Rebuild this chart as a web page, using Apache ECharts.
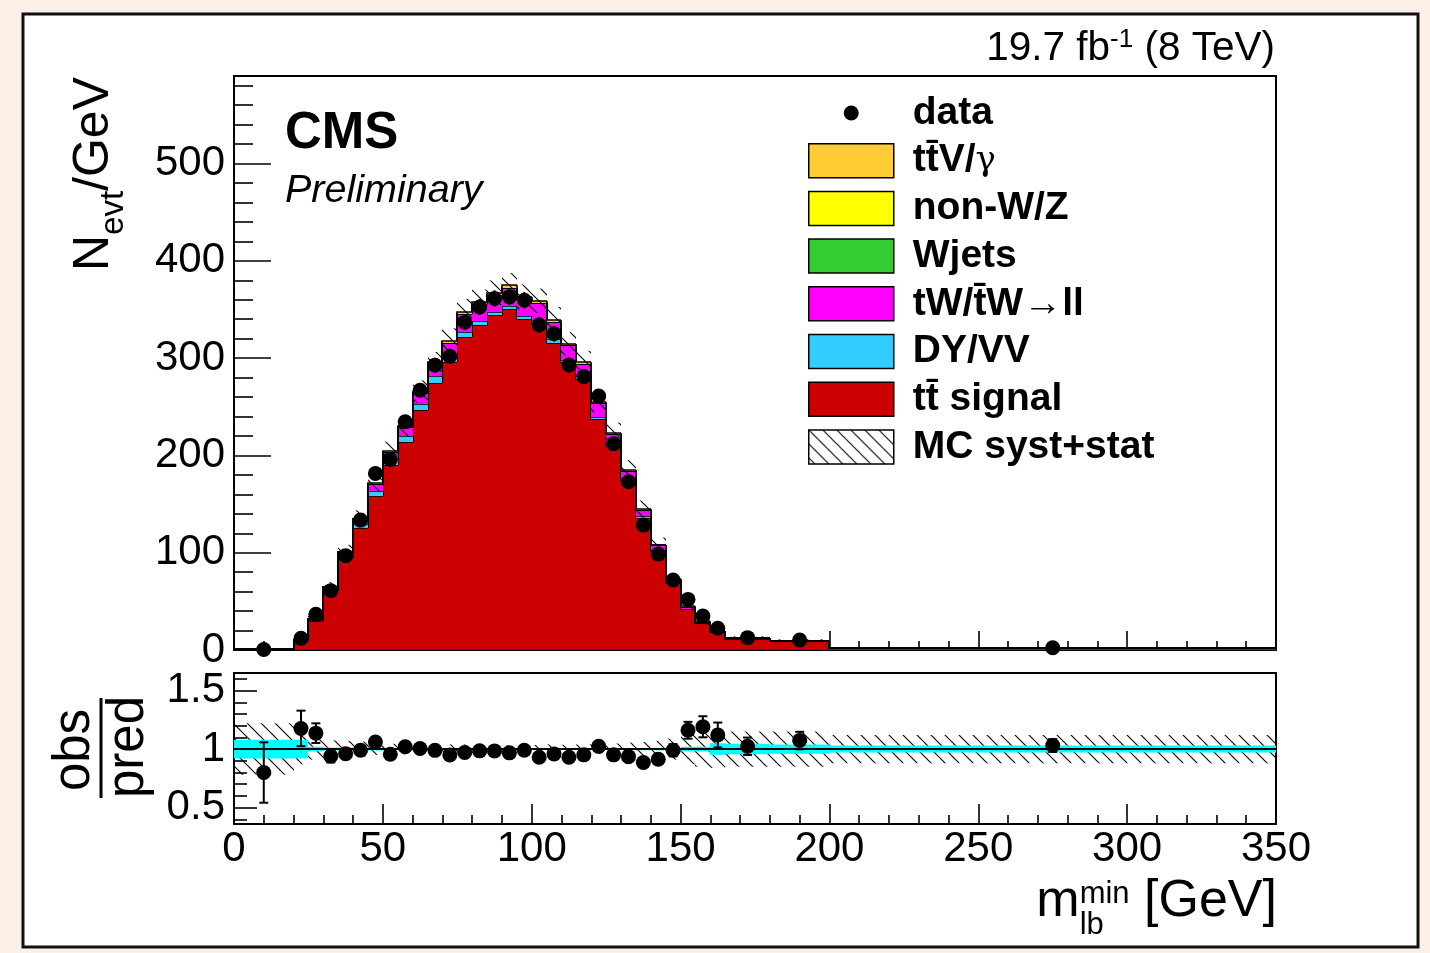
<!DOCTYPE html>
<html><head><meta charset="utf-8">
<script src="https://cdn.jsdelivr.net/npm/echarts@6/dist/echarts.min.js"></script>
<style>html,body{margin:0;padding:0;background:#fcefe6;}#c{width:1430px;height:953px;}</style>
</head><body><div id="c"></div>
<script>
// ---------------- data (per GeV) ----------------
const binEdges = [0,20,25,30,35,40,45,50,55,60,65,70,75,80,85,90,95,100,105,110,115,120,125,130,135,140,145,150,155,160,165,180,200,350];
const dataObs  = [0.48,12.0,36.7,61,97,133.5,181.5,195.9,234.5,267,292.8,302,337,352.6,361.3,363,359.5,334,325,293,281,261,212,173,128.4,98.6,71.9,52,35,22.3,12.7,10.3,2.37];
const ttSignal = [0.35,9.3,30.0,60.5,94.5,125.5,158.5,190,214,247,274,296,322,334,344,350,340,336,316,296,279,237,210,175,136,102,68.5,41.8,27.5,18.6,11.7,9.1,2.15];
const dyVV     = [0.15,0.5,1.2,2.2,3.2,4.3,5.0,6,5.5,5.5,8,6,5,4.5,3.5,4,3,3,3.5,2.5,2.5,2.5,2,1.5,1.5,1.2,0.8,0.6,0.4,0.3,0.2,0.15,0.05];
const tWll     = [0.08,0.35,1.0,2.0,3.0,4.5,7.0,8,9.5,12,12.5,14,18,17.5,17.5,18.5,18,18,17.5,14.5,12.5,14,10,7.5,6.8,4.3,3,2.2,1.35,0.9,0.45,0.3,0.08];
const wJets    = [0,0,0,0,0,0,0,0,0,0,0,0,0,0,0,0,0,0,0,0,0,0,0,0,0,0,0,0,0,0,0,0,0];
const nonWZ    = [0.01,0,0,0,0,0,0,0,0,0,0,0,0,0,0,0,0,0,0,0,0,0,0,0,0,0,0,0,0,0,0,0,0];
const ttVgamma = [0.01,0.05,0.1,0.2,0.3,0.5,0.7,1,1,1.2,1.5,2,2,2,2,2.5,2,2,2,2,1.6,1.5,1,1,0.7,0.5,0.3,0.2,0.15,0.1,0.05,0.05,0.02];
// relative uncertainties
const systStatRel = [0.22,0.13,0.09,0.075,0.07,0.065,0.05,0.045,0.045,0.043,0.035,0.04,0.04,0.035,0.035,0.033,0.035,0.035,0.04,0.037,0.04,0.042,0.048,0.055,0.06,0.07,0.09,0.13,0.15,0.16,0.15,0.15,0.12];
const mcStatRel   = [0.08,0.08,0.02,0.012,0.012,0.012,0.012,0.008,0.008,0.007,0.007,0.007,0.006,0.006,0.006,0.006,0.006,0.006,0.006,0.007,0.007,0.007,0.008,0.008,0.009,0.01,0.012,0.02,0.02,0.05,0.045,0.04,0.03];
// tick values
const yMainTicks  = [0,100,200,300,400,500];
const yMainMinor  = [20,40,60,80,120,140,160,180,220,240,260,280,320,340,360,380,420,440,460,480,520,540,560,580];
const yRatioTicks = [0.5,1,1.5];
const yRatioMinor = [0.4,0.6,0.7,0.8,0.9,1.1,1.2,1.3,1.4,1.6];

// ---------------- helpers ----------------
const FONT = '"Liberation Sans", Arial, Helvetica, sans-serif';
const mctx = document.createElement('canvas').getContext('2d');
function tw(t, size, w, s){ mctx.font = (s||'normal')+' '+(w||'normal')+' '+size+'px '+FONT; return mctx.measureText(t).width; }
function textRun(pieces, x, y, rot, anchor){
  let cx = 0, lastX = 0, lastW = 0; const ch = [];
  pieces.forEach(p => {
    const w = tw(p.t, p.size, p.w, p.s); let px;
    if (p.stack){ px = lastX; cx = lastX + Math.max(lastW, w); }
    else { px = cx; cx += w; lastX = px; lastW = w; }
    ch.push({type:'text', x:px, y:-(p.dy||0) - 0.3465*p.size, z:20,
      style:{text:p.t, fontSize:p.size, fontFamily:FONT, fontWeight:p.w||'normal', fontStyle:p.s||'normal', fill:'#000', align:'left', verticalAlign:'middle'}});
  });
  const off = anchor==='end' ? -cx : anchor==='middle' ? -cx/2 : 0;
  ch.forEach(c => c.x += off);
  return {type:'group', x:x, y:y, rotation:rot||0, z:20, silent:true, children:ch};
}
function makeHatch(s, lw){
  const c = document.createElement('canvas'); c.width = s; c.height = s;
  const g = c.getContext('2d'); g.strokeStyle = '#000'; g.lineWidth = lw;
  g.beginPath(); g.moveTo(-1,-1); g.lineTo(s+1,s+1);
  g.moveTo(s-2,-2); g.lineTo(s+2,2); g.moveTo(-2,s-2); g.lineTo(2,s+2); g.stroke();
  return {image:c, repeat:'repeat'};
}
const hatch = makeHatch(14, 1.1);

const nb = binEdges.length - 1;
const centers = [], widths = [];
for (let i=0;i<nb;i++){ centers.push((binEdges[i]+binEdges[i+1])/2); widths.push(binEdges[i+1]-binEdges[i]); }

const comps = [
  {name:'tt\u0304 signal', vals:ttSignal, color:'#cc0000'},
  {name:'DY/VV', vals:dyVV, color:'#33ccff'},
  {name:'tW/t\u0304W\u2192ll', vals:tWll, color:'#ff00ff'},
  {name:'Wjets', vals:wJets, color:'#33cc33'},
  {name:'non-W/Z', vals:nonWZ, color:'#ffff00'},
  {name:'tt\u0304V/\u03b3', vals:ttVgamma, color:'#ffcc33'}
];
let base = new Array(nb).fill(0);
comps.forEach(c => {
  const tops = base.map((b,i) => b + c.vals[i]);
  c.data = tops.map((t,i) => [binEdges[i], binEdges[i+1], base[i], t, i>0 ? tops[i-1] : 0]);
  base = tops;
});
const total = base;

const R = Math.round;
function stackRender(color){
  return function(params, api){
    const lo=api.value(0), hi=api.value(1), b=api.value(2), t=api.value(3), pt=api.value(4);
    const a=api.coord([lo,b]), c=api.coord([hi,t]), d=api.coord([lo,pt]);
    const x0=R(a[0]), x1=R(c[0]), yb=R(a[1]), yt=R(c[1]), yp=R(d[1]);
    return {type:'group', children:[
      {type:'rect', shape:{x:x0, y:yt, width:x1-x0, height:yb-yt}, style:{fill:color}},
      {type:'polyline', shape:{points:[[x0,yp],[x0,yt],[x1,yt]]}, style:{stroke:'#000', lineWidth:1.6, fill:null}}
    ]};
  };
}
function bandRender(fill){
  return function(params, api){
    const a=api.coord([api.value(0), api.value(2)]), c=api.coord([api.value(1), api.value(3)]);
    return {type:'rect', shape:{x:R(a[0]), y:c[1], width:R(c[0])-R(a[0]), height:a[1]-c[1]}, style:{fill:fill}};
  };
}
function errRender(cap){
  return function(params, api){
    const x=api.value(0);
    const p1=api.coord([x, api.value(1)]), p2=api.coord([x, api.value(2)]);
    const st={stroke:'#000', lineWidth:2};
    const ch=[{type:'line', shape:{x1:p1[0],y1:p1[1],x2:p2[0],y2:p2[1]}, style:st}];
    if (cap){
      ch.push({type:'line', shape:{x1:p1[0]-cap,y1:p1[1],x2:p1[0]+cap,y2:p1[1]}, style:st});
      ch.push({type:'line', shape:{x1:p2[0]-cap,y1:p2[1],x2:p2[0]+cap,y2:p2[1]}, style:st});
    }
    return {type:'group', children:ch};
  };
}

const mainHatch = total.map((t,i) => [binEdges[i], binEdges[i+1], t*(1-systStatRel[i]), t*(1+systStatRel[i])]);
const dataPts = dataObs.map((v,i) => [centers[i], v]);
const dataErr = dataObs.map((v,i) => { const e = Math.sqrt(v*widths[i])/widths[i]; return [centers[i], v-e, v+e]; });
const ratio = dataObs.map((v,i) => v/total[i]);
const ratioPts = ratio.map((r,i) => [centers[i], r]);
const ratioErr = ratio.map((r,i) => { const e = r/Math.sqrt(dataObs[i]*widths[i]); return [centers[i], r-e, r+e]; });
const ratioHatch = systStatRel.map((u,i) => [binEdges[i], binEdges[i+1], 1-u, 1+u]);
const ratioStat = mcStatRel.map((u,i) => [binEdges[i], binEdges[i+1], 1-u, 1+u]);

const axLine = {show:true, lineStyle:{color:'#000', width:2}};
const tickStyle = {color:'#000', width:1.6};
const lblStyle = {fontSize:42, fontFamily:FONT, color:'#000'};
const dotStyle = {color:'#000', opacity:1, borderWidth:0};

const series = [];
comps.forEach((c,k) => series.push({
  type:'custom', name:c.name, xAxisIndex:0, yAxisIndex:0, z:2+k*0.01,
  itemStyle:{color:c.color, opacity:1}, encode:{x:[0,1], y:[2,3]},
  renderItem:stackRender(c.color), data:c.data, silent:true
}));
series.push({type:'custom', name:'MC syst+stat', xAxisIndex:0, yAxisIndex:0, z:3,
  itemStyle:{color:hatch, opacity:1}, encode:{x:[0,1], y:[2,3]}, renderItem:bandRender(hatch), data:mainHatch, silent:true});
series.push({type:'custom', name:'data err', xAxisIndex:0, yAxisIndex:0, z:4,
  encode:{x:0, y:[1,2]}, renderItem:errRender(0), data:dataErr, silent:true});
series.push({type:'scatter', name:'data', xAxisIndex:0, yAxisIndex:0, z:5,
  symbol:'circle', symbolSize:15, itemStyle:dotStyle, emphasis:{disabled:true}, data:dataPts, silent:true});
// ratio panel
series.push({type:'custom', name:'ratio syst', xAxisIndex:1, yAxisIndex:2, z:2,
  encode:{x:[0,1], y:[2,3]}, renderItem:bandRender(hatch), data:ratioHatch, silent:true});
series.push({type:'custom', name:'ratio stat', xAxisIndex:1, yAxisIndex:2, z:3,
  encode:{x:[0,1], y:[2,3]}, renderItem:bandRender('#00ffff'), data:ratioStat, silent:true});
series.push({type:'line', name:'unity', xAxisIndex:1, yAxisIndex:2, z:4, showSymbol:false, symbol:'none',
  lineStyle:{color:'#000', width:2}, data:[[0,1],[350,1]], silent:true});
series.push({type:'custom', name:'ratio err', xAxisIndex:1, yAxisIndex:2, z:5,
  encode:{x:0, y:[1,2]}, renderItem:errRender(4.5), data:ratioErr, silent:true});
series.push({type:'scatter', name:'ratio', xAxisIndex:1, yAxisIndex:2, z:6,
  symbol:'circle', symbolSize:15, itemStyle:dotStyle, emphasis:{disabled:true}, data:ratioPts, silent:true});

const DOT = 'path://M0 0M85 34M35 17A7.5 7.5 0 1 1 50 17A7.5 7.5 0 1 1 35 17Z';
const legendData = [{name:'data', icon:DOT, itemStyle:{color:'#000', opacity:1, borderWidth:0}}];
comps.slice().reverse().forEach(c => legendData.push({name:c.name, icon:'rect', itemStyle:{borderColor:'#000', borderWidth:1.5}}));
legendData.push({name:'MC syst+stat', icon:'rect', itemStyle:{borderColor:'#000', borderWidth:1.5}});

const option = {
  animation:false,
  backgroundColor:'transparent',
  grid:[
    {left:234, top:76, width:1042, height:574, show:true, backgroundColor:'#fff', borderColor:'#000', borderWidth:2, containLabel:false, outerBoundsMode:'none'},
    {left:234, top:673, width:1042, height:151, show:true, backgroundColor:'#fff', borderColor:'#000', borderWidth:2, containLabel:false, outerBoundsMode:'none'}
  ],
  xAxis:[
    {gridIndex:0, type:'value', min:0, max:350, interval:50, axisLine:axLine,
     axisTick:{show:true, inside:true, length:19, lineStyle:tickStyle},
     minorTick:{show:true, splitNumber:5, length:9, lineStyle:tickStyle},
     axisLabel:{show:false}, splitLine:{show:false}, minorSplitLine:{show:false}},
    {gridIndex:1, type:'value', min:0, max:350, interval:50, axisLine:axLine,
     axisTick:{show:true, inside:true, length:20, lineStyle:tickStyle},
     minorTick:{show:true, splitNumber:5, length:9, lineStyle:tickStyle},
     axisLabel:Object.assign({show:true, margin:4}, lblStyle), splitLine:{show:false}, minorSplitLine:{show:false}}
  ],
  yAxis:[
    {gridIndex:0, type:'value', min:0, max:590, position:'left', axisLine:axLine,
     axisTick:{show:true, inside:true, length:37, customValues:yMainTicks, lineStyle:tickStyle},
     axisLabel:Object.assign({show:true, margin:9, customValues:yMainTicks}, lblStyle), splitLine:{show:false}},
    {gridIndex:0, type:'value', min:0, max:590, position:'left', offset:0, axisLine:{show:false},
     axisTick:{show:true, inside:true, length:19, customValues:yMainMinor, lineStyle:tickStyle},
     axisLabel:{show:false}, splitLine:{show:false}},
    {gridIndex:1, type:'value', min:0.36, max:1.65, position:'left', axisLine:axLine,
     axisTick:{show:true, inside:true, length:23, customValues:yRatioTicks, lineStyle:tickStyle},
     axisLabel:Object.assign({show:true, margin:9, customValues:yRatioTicks, formatter:v => String(+v.toFixed(2))}, lblStyle), splitLine:{show:false}},
    {gridIndex:1, type:'value', min:0.36, max:1.65, position:'left', offset:0, axisLine:{show:false},
     axisTick:{show:true, inside:true, length:13, customValues:yRatioMinor, lineStyle:tickStyle},
     axisLabel:{show:false}, splitLine:{show:false}}
  ],
  legend:{
    orient:'vertical', left:808, top:93.5, padding:0, itemWidth:85, itemHeight:34, itemGap:8.7, selectedMode:false,
    formatter: name => name.indexOf('\u03b3') >= 0 ? '{b|' + name.replace('\u03b3','') + '}{g|\u03b3}' : name,
    textStyle:{fontFamily:FONT, fontSize:39, fontWeight:'bold', color:'#000', lineHeight:34, padding:[0,0,0,14],
      rich:{b:{fontFamily:FONT, fontSize:39, fontWeight:'bold', color:'#000', lineHeight:34},
            g:{fontFamily:'"DejaVu Serif", serif', fontSize:34, fontWeight:'normal', color:'#000', lineHeight:34}}},
    data:legendData
  },
  graphic:[
    {type:'rect', z:-10, silent:true, shape:{x:23, y:14, width:1395, height:933}, style:{fill:'#fff', stroke:'#111', lineWidth:3}},
    textRun([{t:'19.7 fb', size:40.5},{t:'-1', size:26, dy:14},{t:' (8 TeV)', size:40.5}], 1275, 63, 0, 'end'),
    textRun([{t:'CMS', size:51, w:'bold'}], 285, 152, 0, 'start'),
    textRun([{t:'Preliminary', size:39.5, s:'italic'}], 285, 205, 0, 'start'),
    textRun([{t:'N', size:50},{t:'evt', size:33, dy:-13},{t:'/GeV', size:50}], 112, 77, Math.PI/2, 'end'),
    textRun([{t:'obs', size:51}], 93, 750, Math.PI/2, 'middle'),
    textRun([{t:'pred', size:51}], 147, 747, Math.PI/2, 'middle'),
    {type:'line', z:20, silent:true, shape:{x1:101, y1:698, x2:101, y2:798}, style:{stroke:'#000', lineWidth:3}},
    textRun([{t:'m', size:52},{t:'min', size:31, dy:15},{t:'lb', size:31, dy:-16, stack:true},{t:' [GeV]', size:52}], 1277, 920, 0, 'end')
  ],
  series:series
};
const chart = echarts.init(document.getElementById('c'), null, {renderer:'canvas', width:1430, height:953});
chart.setOption(option);
</script></body></html>
